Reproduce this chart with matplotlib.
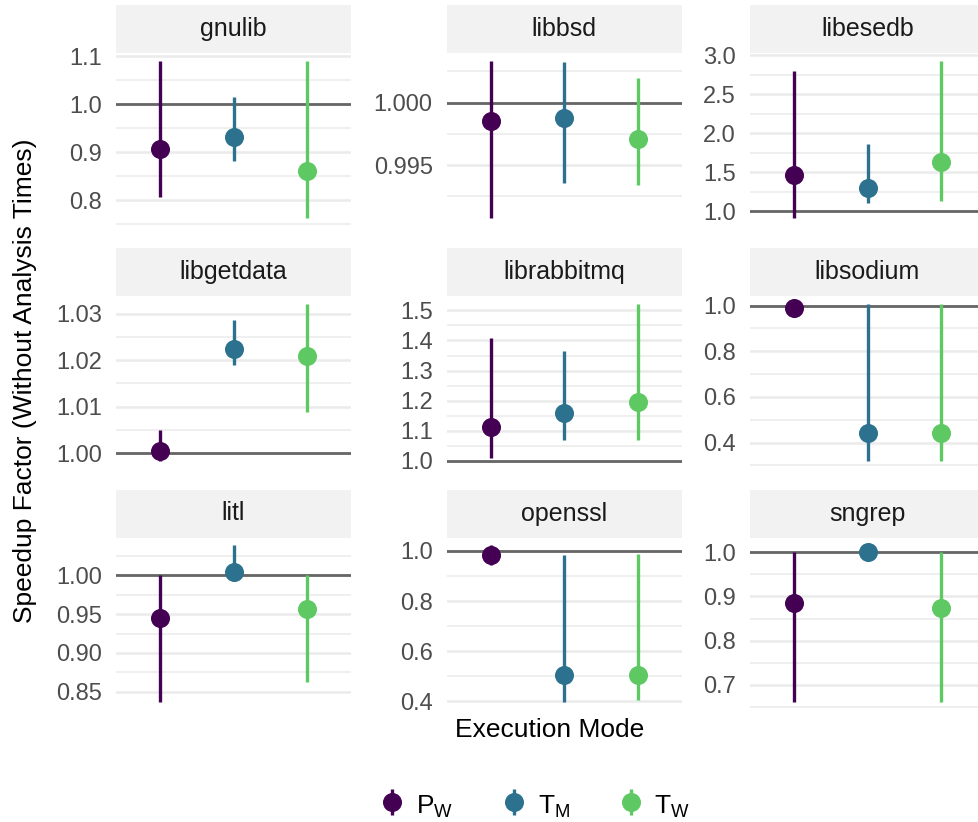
import matplotlib.pyplot as plt
import numpy as np

plt.rcParams['font.family'] = ['Liberation Sans', 'DejaVu Sans']
plt.rcParams['mathtext.fontset'] = 'custom'
plt.rcParams['mathtext.rm'] = 'Liberation Sans'
plt.rcParams['mathtext.it'] = 'Liberation Sans:italic'

# facets, in reading order
libraries = ['gnulib', 'libbsd', 'libesedb',
             'libgetdata', 'librabbitmq', 'libsodium',
             'litl', 'openssl', 'sngrep']
modes = ['P_W', 'T_M', 'T_W']
mode_labels = [r'$\mathregular{P_W}$', r'$\mathregular{T_M}$', r'$\mathregular{T_W}$']

# speedup factor per library: centre, lower, upper
pw_mid = [0.906, 0.99851, 1.465, 1.0004, 1.113, 0.991, 0.9448, 0.985, 0.8848]
pw_lo = [0.806, 0.9908, 0.919, 0.9984, 1.009, 0.982, 0.8365, 0.944, 0.661]
pw_hi = [1.090, 1.00333, 2.799, 1.0050, 1.408, 0.998, 1.000, 1.022, 1.000]

tm_mid = [0.931, 0.99878, 1.299, 1.02245, 1.160, 0.4405, 1.0039, 0.504, 1.000]
tm_lo = [0.882, 0.99359, 1.103, 1.01901, 1.069, 0.321, 0.996, 0.397, 0.990]
tm_hi = [1.015, 1.00320, 1.868, 1.02854, 1.364, 1.008, 1.0388, 0.984, 1.0156]

tw_mid = [0.860, 0.99708, 1.637, 1.02086, 1.194, 0.4405, 0.9564, 0.504, 0.875]
tw_lo = [0.764, 0.99338, 1.132, 1.00882, 1.069, 0.321, 0.8624, 0.404, 0.662]
tw_hi = [1.090, 1.00192, 2.927, 1.0321, 1.522, 1.008, 1.000, 0.988, 1.000]

# y breaks per facet and their label decimals
y_ticks = [[0.8, 0.9, 1.0, 1.1], [0.995, 1.0], [1.0, 1.5, 2.0, 2.5, 3.0],
           [1.00, 1.01, 1.02, 1.03], [1.0, 1.1, 1.2, 1.3, 1.4, 1.5], [0.4, 0.6, 0.8, 1.0],
           [0.85, 0.90, 0.95, 1.00], [0.4, 0.6, 0.8, 1.0], [0.7, 0.8, 0.9, 1.0]]
y_decimals = [1, 3, 1, 2, 1, 1, 2, 1, 1]

cmap = plt.get_cmap('viridis')
colors = [cmap(0.0), cmap(0.375), cmap(0.75)]
mids = [pw_mid, tm_mid, tw_mid]
los = [pw_lo, tm_lo, tw_lo]
his = [pw_hi, tm_hi, tw_hi]

W, H = 979, 822
fig = plt.figure(figsize=(W / 100, H / 100), dpi=100)

col_left = [116, 446.6, 750]
panel_w = 235
row_top = [53, 296, 537.5]
panel_h = 172.5
strip_h = 48

handles = []
for k, lib in enumerate(libraries):
    r, c = divmod(k, 3)
    x0 = col_left[c]
    y0 = row_top[r]
    ax = fig.add_axes([x0 / W, 1 - (y0 + panel_h) / H, panel_w / W, panel_h / H])
    sax = fig.add_axes([x0 / W, 1 - y0 / H, panel_w / W, strip_h / H])
    sax.set_facecolor('#F2F2F2')
    sax.set_xticks([])
    sax.set_yticks([])
    for s in sax.spines.values():
        s.set_visible(False)
    sax.text(0.5, 0.5, lib, ha='center', va='center', fontsize=18, color='#1A1A1A',
             transform=sax.transAxes)

    lo_all = min(min(l[k] for l in los), 1.0)
    hi_all = max(max(h[k] for h in his), 1.0)
    rng = hi_all - lo_all
    ylo, yhi = lo_all - 0.05 * rng, hi_all + 0.05 * rng

    ticks = y_ticks[k]
    step = ticks[1] - ticks[0]
    ext = [ticks[0] - step] + ticks + [ticks[-1] + step]
    minors = [(a + b) / 2 for a, b in zip(ext[:-1], ext[1:])]
    minors = [m for m in minors if ylo <= m <= yhi]

    for m in minors:
        ax.axhline(m, color='#EBEBEB', lw=1.1, zorder=0)
    for t in ticks:
        ax.axhline(t, color='#EBEBEB', lw=1.8, zorder=0)
    ax.axhline(1.0, color='#666666', lw=2.0, zorder=1)

    for j, mode in enumerate(modes):
        m = mids[j][k]
        eb = ax.errorbar([j + 1], [m], yerr=[[m - los[j][k]], [his[j][k] - m]],
                         fmt='o', color=colors[j], ms=13.7, mew=0, elinewidth=2.4,
                         capsize=0, zorder=3, label=mode_labels[j])
        if k == 0:
            handles.append(eb)

    ax.set_xlim(0.4, 3.6)
    ax.set_ylim(ylo, yhi)
    ax.set_xticks([])
    ax.set_yticks(ticks)
    ax.set_yticklabels([f'{t:.{y_decimals[k]}f}' for t in ticks])
    ax.tick_params(axis='y', length=0, pad=10, labelsize=17, labelcolor='#4D4D4D')
    for s in ax.spines.values():
        s.set_visible(False)

fig.text(550 / W, 1 - 730 / H, 'Execution Mode', ha='center', va='center', fontsize=19)
fig.text(25 / W, 1 - 381 / H, 'Speedup Factor (Without Analysis Times)', ha='center',
         va='center', rotation=90, fontsize=19)

fig.legend(handles, mode_labels, loc='center', bbox_to_anchor=(536 / W, 1 - 805 / H),
           ncol=3, frameon=False, fontsize=19, handlelength=0.8, handleheight=1.3,
           handletextpad=0.5, columnspacing=1.9)

fig.savefig('out.png', dpi=100)
